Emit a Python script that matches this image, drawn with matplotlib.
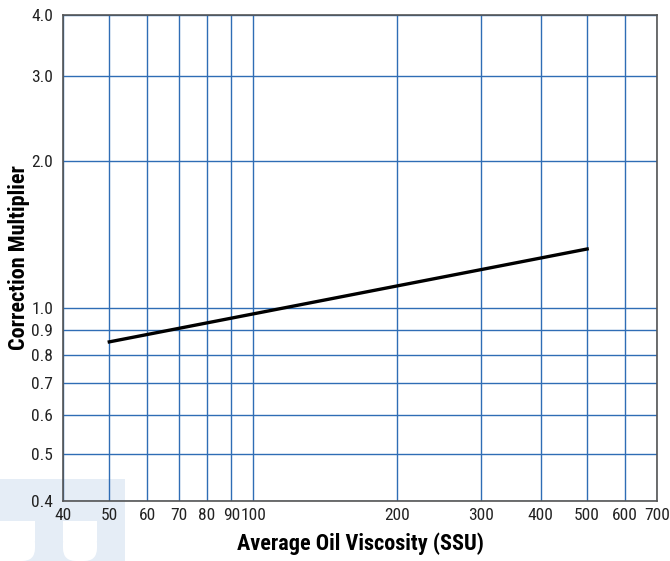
'''
Oil viscosity correction multiplier chart (log-log).
'''

import matplotlib
matplotlib.use('Agg')
import matplotlib.pyplot as plt
from matplotlib import font_manager
from matplotlib.patches import Rectangle, FancyBboxPatch
from matplotlib.ticker import FixedLocator, NullLocator, FixedFormatter


def weight_of(f):
    w = f.weight
    if isinstance(w, str):
        w = font_manager.weight_dict.get(w, 400)
    return w


# pick a condensed face that also has a bold weight, else Roboto
fonts = font_manager.fontManager.ttflist
names = {f.name for f in fonts}
bold_names = {f.name for f in fonts if weight_of(f) >= 600}
prefer = ['Roboto Condensed', 'Liberation Sans Narrow', 'Open Sans Condensed',
          'Noto Sans Condensed', 'Arial Narrow']
narrow = [n for n in prefer if n in names]
narrow += sorted(n for n in bold_names
                 if ('Condensed' in n or 'Narrow' in n) and n not in narrow)
FONT = (narrow[:1] or ['Roboto'])[0]
plt.rcParams['font.family'] = [FONT, 'DejaVu Sans']

# Curve
VISCOSITY = [50, 500]
MULTIPLIER = [0.85, 1.32]

X_TICKS = [40, 50, 60, 70, 80, 90, 100, 200, 300, 400, 500, 600, 700]
Y_TICKS = [0.4, 0.5, 0.6, 0.7, 0.8, 0.9, 1.0, 2.0, 3.0, 4.0]
Y_LABELS = ['0.4', '0.5', '0.6', '0.7', '0.8', '0.9', '1.0', '2.0', '3.0', '4.0']

GRID_BLUE = '#2f6db5'
WATERMARK = '#e5edf6'

fig = plt.figure(figsize=(6.7, 5.61), dpi=100)

# faint logo in the bottom-left corner, on a background axes
bg = fig.add_axes([0, 0, 1, 1], zorder=-5)
bg.set_xlim(0, 670)
bg.set_ylim(561, 0)
bg.axis('off')
bg.add_patch(Rectangle((0, 479), 125, 90, color=WATERMARK, lw=0))
for x0, w in [(-20, 55), (63, 34)]:
    bg.add_patch(Rectangle((x0, 521), w, 20, color='white', lw=0))
    bg.add_patch(FancyBboxPatch((x0, 530), w, 31,
                                boxstyle='round,pad=0,rounding_size=13',
                                color='white', lw=0))

ax = fig.add_axes([0.094, 0.107, 0.8866, 0.8663])
ax.set_facecolor('none')
ax.set_xscale('log')
ax.set_yscale('log')
ax.set_xlim(40, 700)
ax.set_ylim(0.4, 4.0)

ax.xaxis.set_major_locator(FixedLocator(X_TICKS))
ax.xaxis.set_major_formatter(FixedFormatter([str(v) for v in X_TICKS]))
ax.xaxis.set_minor_locator(NullLocator())
ax.yaxis.set_major_locator(FixedLocator(Y_TICKS))
ax.yaxis.set_major_formatter(FixedFormatter(Y_LABELS))
ax.yaxis.set_minor_locator(NullLocator())

ax.tick_params(length=0, labelsize=12.5, colors='#222222')
ax.tick_params(axis='y', pad=7)
ax.tick_params(axis='x', pad=5)
ax.grid(True, color=GRID_BLUE, linewidth=1.0)
for s in ax.spines.values():
    s.set_color('#555555')
    s.set_linewidth(1.2)

ax.plot(VISCOSITY, MULTIPLIER, color='black', linewidth=2.4, zorder=3)

ax.set_xlabel('Average Oil Viscosity (SSU)', fontsize=16,
              fontweight='bold', labelpad=7)
ax.set_ylabel('Correction Multiplier', fontsize=16,
              fontweight='bold', labelpad=1)

fig.savefig('out.png', dpi=100)
